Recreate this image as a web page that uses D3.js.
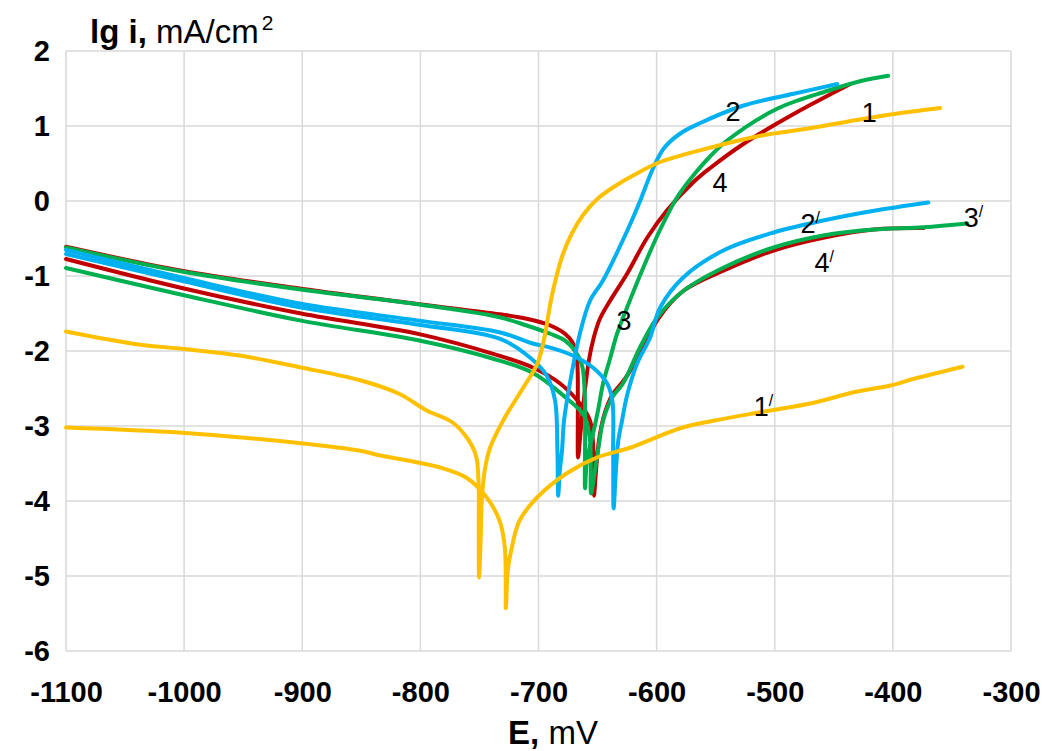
<!DOCTYPE html>
<html><head><meta charset="utf-8">
<script src="https://cdn.jsdelivr.net/npm/d3@7/dist/d3.min.js"></script>
<style>body{margin:0;background:#fff}</style>
</head><body>
<svg id="chart" width="1043" height="751"></svg>
<script>
// ---- tick values ----
const xTicks = [-1100, -1000, -900, -800, -700, -600, -500, -400, -300];
const yTicks = [-6, -5, -4, -3, -2, -1, 0, 1, 2];

// ---- series: [E (mV), lg i] ----
const curve1 = [[-1100,-1.74],[-1040,-1.91],[-1002,-1.97],[-953,-2.06],[-901,-2.22],[-851,-2.39],[-818,-2.57],[-795,-2.79],[-773,-2.95],[-760,-3.17],[-753,-3.39],[-750.8,-3.73],[-750.6,-4.4],[-750.3,-5.02],[-749,-4.53],[-748,-3.99],[-745.5,-3.59],[-741,-3.29],[-730,-2.93],[-713,-2.49],[-701,-2.17],[-695,-1.82],[-690,-1.37],[-686,-1.08],[-680,-0.74],[-672,-0.44],[-662,-0.18],[-650,0.03],[-635,0.2],[-620,0.34],[-597,0.52],[-555,0.71],[-512,0.87],[-470,0.97],[-427,1.09],[-399,1.16],[-360,1.24]];
const curve1p = [[-1100,-3.02],[-1002,-3.09],[-901,-3.23],[-851,-3.33],[-834.5,-3.39],[-784,-3.55],[-761,-3.69],[-744,-3.95],[-733,-4.26],[-728.5,-4.62],[-727.6,-5.43],[-726,-4.92],[-722.6,-4.62],[-716,-4.26],[-701,-3.95],[-676,-3.63],[-650.5,-3.42],[-622.5,-3.29],[-580,-3.03],[-552,-2.93],[-510,-2.81],[-467,-2.69],[-433,-2.55],[-402,-2.46],[-382,-2.37],[-341,-2.21]];
const curve2 = [[-1100,-0.707],[-1002,-1.063],[-901,-1.42],[-801,-1.65],[-733,-1.835],[-707,-2.09],[-693,-2.33],[-686,-2.66],[-684,-3.33],[-683.3,-3.93],[-682,-3.6],[-680.1,-3.33],[-678.4,-2.93],[-673.4,-2.43],[-665,-1.77],[-656.4,-1.33],[-645.4,-1.06],[-625,-0.40],[-614,0.0],[-604,0.40],[-594,0.70],[-580,0.90],[-563,1.04],[-527,1.27],[-484,1.43],[-447,1.56]];
const curve2p = [[-1100,-0.654],[-1002,-1.02],[-901,-1.37],[-801,-1.595],[-733,-1.75],[-705,-1.90],[-690,-1.955],[-671,-2.06],[-654,-2.22],[-642,-2.43],[-637.5,-2.66],[-636.8,-3.33],[-636.4,-4.10],[-634.5,-3.6],[-632.5,-3.2],[-629.3,-2.93],[-625,-2.59],[-616.6,-2.17],[-605.5,-1.82],[-597,-1.42],[-577.5,-1.02],[-543.6,-0.66],[-501,-0.42],[-459,-0.26],[-416,-0.13],[-370,-0.02]];
const curve3 = [[-1100,-0.62],[-1002,-0.94],[-901,-1.18],[-801,-1.38],[-733,-1.55],[-710,-1.66],[-690,-1.77],[-677.6,-1.86],[-669,-2.0],[-663.2,-2.19],[-660.8,-2.59],[-660.6,-3.83],[-659,-3.46],[-653.8,-3.10],[-649.6,-2.79],[-645.3,-2.43],[-639.4,-2.10],[-633.5,-1.77],[-622.5,-1.32],[-610,-0.84],[-597,-0.38],[-583,0.04],[-569,0.34],[-555,0.59],[-540,0.81],[-498,1.23],[-455,1.47],[-427,1.60],[-404,1.67]];
const curve3p = [[-1100,-0.894],[-1002,-1.25],[-901,-1.595],[-801,-1.86],[-739,-2.10],[-705,-2.29],[-677,-2.62],[-661.5,-2.86],[-656.4,-3.19],[-655.5,-3.90],[-652.2,-3.59],[-649.6,-3.33],[-645.3,-2.93],[-637.7,-2.62],[-628.4,-2.43],[-614,-1.95],[-599.6,-1.555],[-577.5,-1.20],[-543.6,-0.89],[-501,-0.62],[-459,-0.46],[-416,-0.38],[-374,-0.35],[-337,-0.30]];
const curve4 = [[-1100,-0.61],[-1002,-0.93],[-901,-1.17],[-801,-1.375],[-733,-1.51],[-710,-1.57],[-690,-1.66],[-677.6,-1.77],[-671,-1.89],[-667.4,-2.13],[-666.7,-2.66],[-666.5,-3.42],[-664.5,-3.1],[-661.7,-2.66],[-657.4,-2.13],[-653.2,-1.82],[-648,-1.57],[-639.4,-1.33],[-625,-0.97],[-608,-0.49],[-591,-0.12],[-569,0.25],[-554.6,0.44],[-526.6,0.76],[-484,1.16],[-436,1.56]];
const curve4p = [[-1100,-0.774],[-1002,-1.16],[-901,-1.50],[-801,-1.775],[-739,-2.035],[-705,-2.22],[-682,-2.43],[-665,-2.70],[-656.4,-2.93],[-653.5,-3.33],[-653,-3.93],[-651.3,-3.59],[-648.8,-3.19],[-644.5,-2.86],[-637.7,-2.59],[-626.7,-2.37],[-614,-2.03],[-598.7,-1.57],[-577.5,-1.20],[-543.6,-0.93],[-501,-0.66],[-459,-0.49],[-416,-0.38],[-374,-0.36]];

// ---- curve labels: [text, prime?, E, lg] ----
const curveLabels = [["1",false,-420,1.17],["2",false,-535.3,1.19],["3",false,-627.7,-1.60],["4",false,-546.3,0.24],
                     ["1",true,-509.6,-2.75],["2",true,-469.9,-0.30],["3",true,-331.7,-0.22],["4",true,-458.1,-0.83]];

const series = [
  {data: curve4, color: "#C00000"}, {data: curve4p, color: "#C00000"},
  {data: curve3, color: "#00B050"}, {data: curve3p, color: "#00B050"},
  {data: curve2, color: "#00B0F0"}, {data: curve2p, color: "#00B0F0"},
  {data: curve1, color: "#FFC000"}, {data: curve1p, color: "#FFC000"}
];

const svg = d3.select("#chart");
const font = "'Liberation Sans', Arial, sans-serif";
const x = d3.scaleLinear().domain([-1100, -300]).range([66, 1011]);
const y = d3.scaleLinear().domain([-6, 2]).range([651, 51]);

// grid
const grid = svg.append("g");
grid.selectAll("line.v").data(xTicks).join("line")
  .attr("x1", d => x(d)).attr("x2", d => x(d)).attr("y1", y(2)).attr("y2", y(-6))
  .attr("stroke", "#d9d9d9").attr("stroke-width", 1.5);
grid.selectAll("line.h").data(yTicks).join("line")
  .attr("x1", x(-1100)).attr("x2", x(-300)).attr("y1", d => y(d)).attr("y2", d => y(d))
  .attr("stroke", "#d9d9d9").attr("stroke-width", 1.5);

// axes labels via d3 axes
const xAxis = svg.append("g").attr("transform", `translate(0,${y(-6)})`)
  .call(d3.axisBottom(x).tickValues(xTicks).tickSize(0).tickPadding(30).tickFormat(d => String(d)));
xAxis.select(".domain").remove();
xAxis.selectAll("text").attr("font-family", font).attr("font-weight", "bold").attr("font-size", 29).attr("fill", "#000");

const yAxis = svg.append("g").attr("transform", `translate(${x(-1100)},0)`)
  .call(d3.axisLeft(y).tickValues(yTicks).tickSize(0).tickPadding(16).tickFormat(d => String(d)));
yAxis.select(".domain").remove();
yAxis.selectAll("text").attr("font-family", font).attr("font-weight", "bold").attr("font-size", 29).attr("fill", "#000");

// curves
const line = d3.line().x(d => x(d[0])).y(d => y(d[1])).curve(d3.curveCatmullRom.alpha(0.5));
svg.append("g").selectAll("path").data(series).join("path")
  .attr("d", d => line(d.data)).attr("fill", "none").attr("stroke", d => d.color)
  .attr("stroke-width", 4).attr("stroke-linecap", "round").attr("stroke-linejoin", "round");

// curve labels
const lab = svg.append("g").selectAll("text").data(curveLabels).join("text")
  .attr("x", d => x(d[2])).attr("y", d => y(d[3]))
  .attr("text-anchor", "middle").attr("dominant-baseline", "central")
  .attr("font-family", font).attr("font-size", 27).attr("fill", "#000");
lab.append("tspan").text(d => d[0]);
lab.filter(d => d[1]).append("tspan").attr("font-size", 16).attr("dy", -7).text("/");

// y title
const yt = svg.append("text").attr("x", 90).attr("y", 43).attr("font-family", font).attr("font-size", 33).attr("fill", "#000");
yt.append("tspan").attr("font-weight", "bold").text("lg i,");
yt.append("tspan").text(" mA/cm");
yt.append("tspan").attr("font-size", 21).attr("dy", -13).attr("dx", 3).text("2");

// x title
const xt = svg.append("text").attr("x", 553).attr("y", 744).attr("text-anchor", "middle").attr("font-family", font).attr("font-size", 33).attr("fill", "#000");
xt.append("tspan").attr("font-weight", "bold").text("E,");
xt.append("tspan").text(" mV");
</script>
</body></html>
